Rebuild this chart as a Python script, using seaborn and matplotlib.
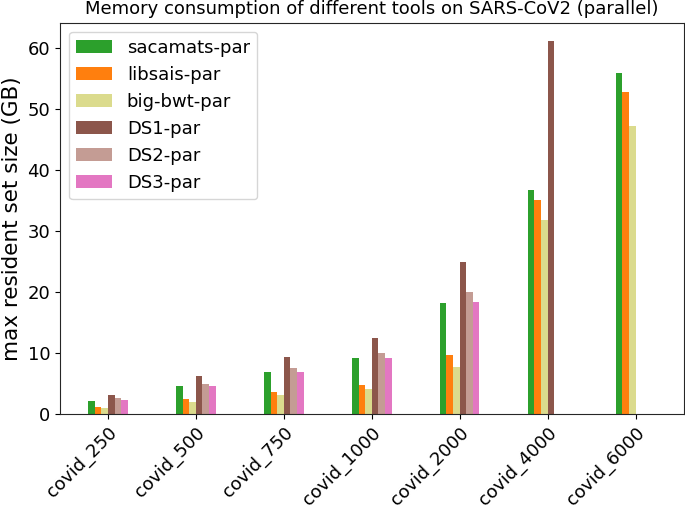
import matplotlib
matplotlib.use('Agg')
import matplotlib.pyplot as plt
import numpy as np
import pandas as pd
import seaborn as sns

# data (GB)
datasets = ['covid_250', 'covid_500', 'covid_750', 'covid_1000',
            'covid_2000', 'covid_4000', 'covid_6000']
tools = ['sacamats-par', 'libsais-par', 'big-bwt-par', 'DS1-par', 'DS2-par', 'DS3-par']
nan = np.nan
sacamats = [2.19, 4.56, 6.96, 9.21, 18.3, 36.8, 55.9]
libsais = [1.15, 2.42, 3.62, 4.82, 9.76, 35.2, 52.8]
bigbwt = [0.99, 1.97, 3.13, 4.06, 7.78, 31.8, 47.3]
ds1 = [3.08, 6.2, 9.33, 12.45, 25.0, 61.2, nan]
ds2 = [2.58, 4.99, 7.52, 9.99, 20.0, nan, nan]
ds3 = [2.25, 4.56, 6.86, 9.16, 18.38, nan, nan]
colors = ['#2ca02c', '#ff7f0e', '#dbdb8d', '#8c564b', '#c49c94', '#e377c2']

rows = []
for tool, vals in zip(tools, [sacamats, libsais, bigbwt, ds1, ds2, ds3]):
    for d, v in zip(datasets, vals):
        if not np.isnan(v):
            rows.append({'dataset': d, 'tool': tool, 'mem': v})
df = pd.DataFrame(rows)

sns.set_style('ticks')
plt.rcParams['font.family'] = ['DejaVu Sans']
plt.rcParams['text.color'] = 'black'
plt.rcParams['xtick.color'] = 'black'
plt.rcParams['ytick.color'] = 'black'
plt.rcParams['axes.labelcolor'] = 'black'

fig = plt.figure(figsize=(6.85, 5.05), dpi=100)
ax = fig.add_axes([60/685, 1-414/505, 623.5/685, (414-22.5)/505])

sns.barplot(data=df, x='dataset', y='mem', hue='tool',
            order=datasets, hue_order=tools, palette=colors,
            width=0.45, errorbar=None, linewidth=0, saturation=1, ax=ax)

ax.set_xlim(-0.545, 6.545)
ax.set_ylim(0, 64.26)
ax.set_title('Memory consumption of different tools on SARS-CoV2 (parallel)', fontsize=13)
ax.set_xlabel('')
ax.set_ylabel('max resident set size (GB)', fontsize=15.5)
ax.tick_params(axis='both', labelsize=13)
plt.setp(ax.get_xticklabels(), rotation=45, ha='right', rotation_mode='anchor')
for s in ax.spines.values():
    s.set_visible(True)
ax.legend(loc='upper left', fontsize=13, title=None)

fig.savefig('out.png', dpi=100)
